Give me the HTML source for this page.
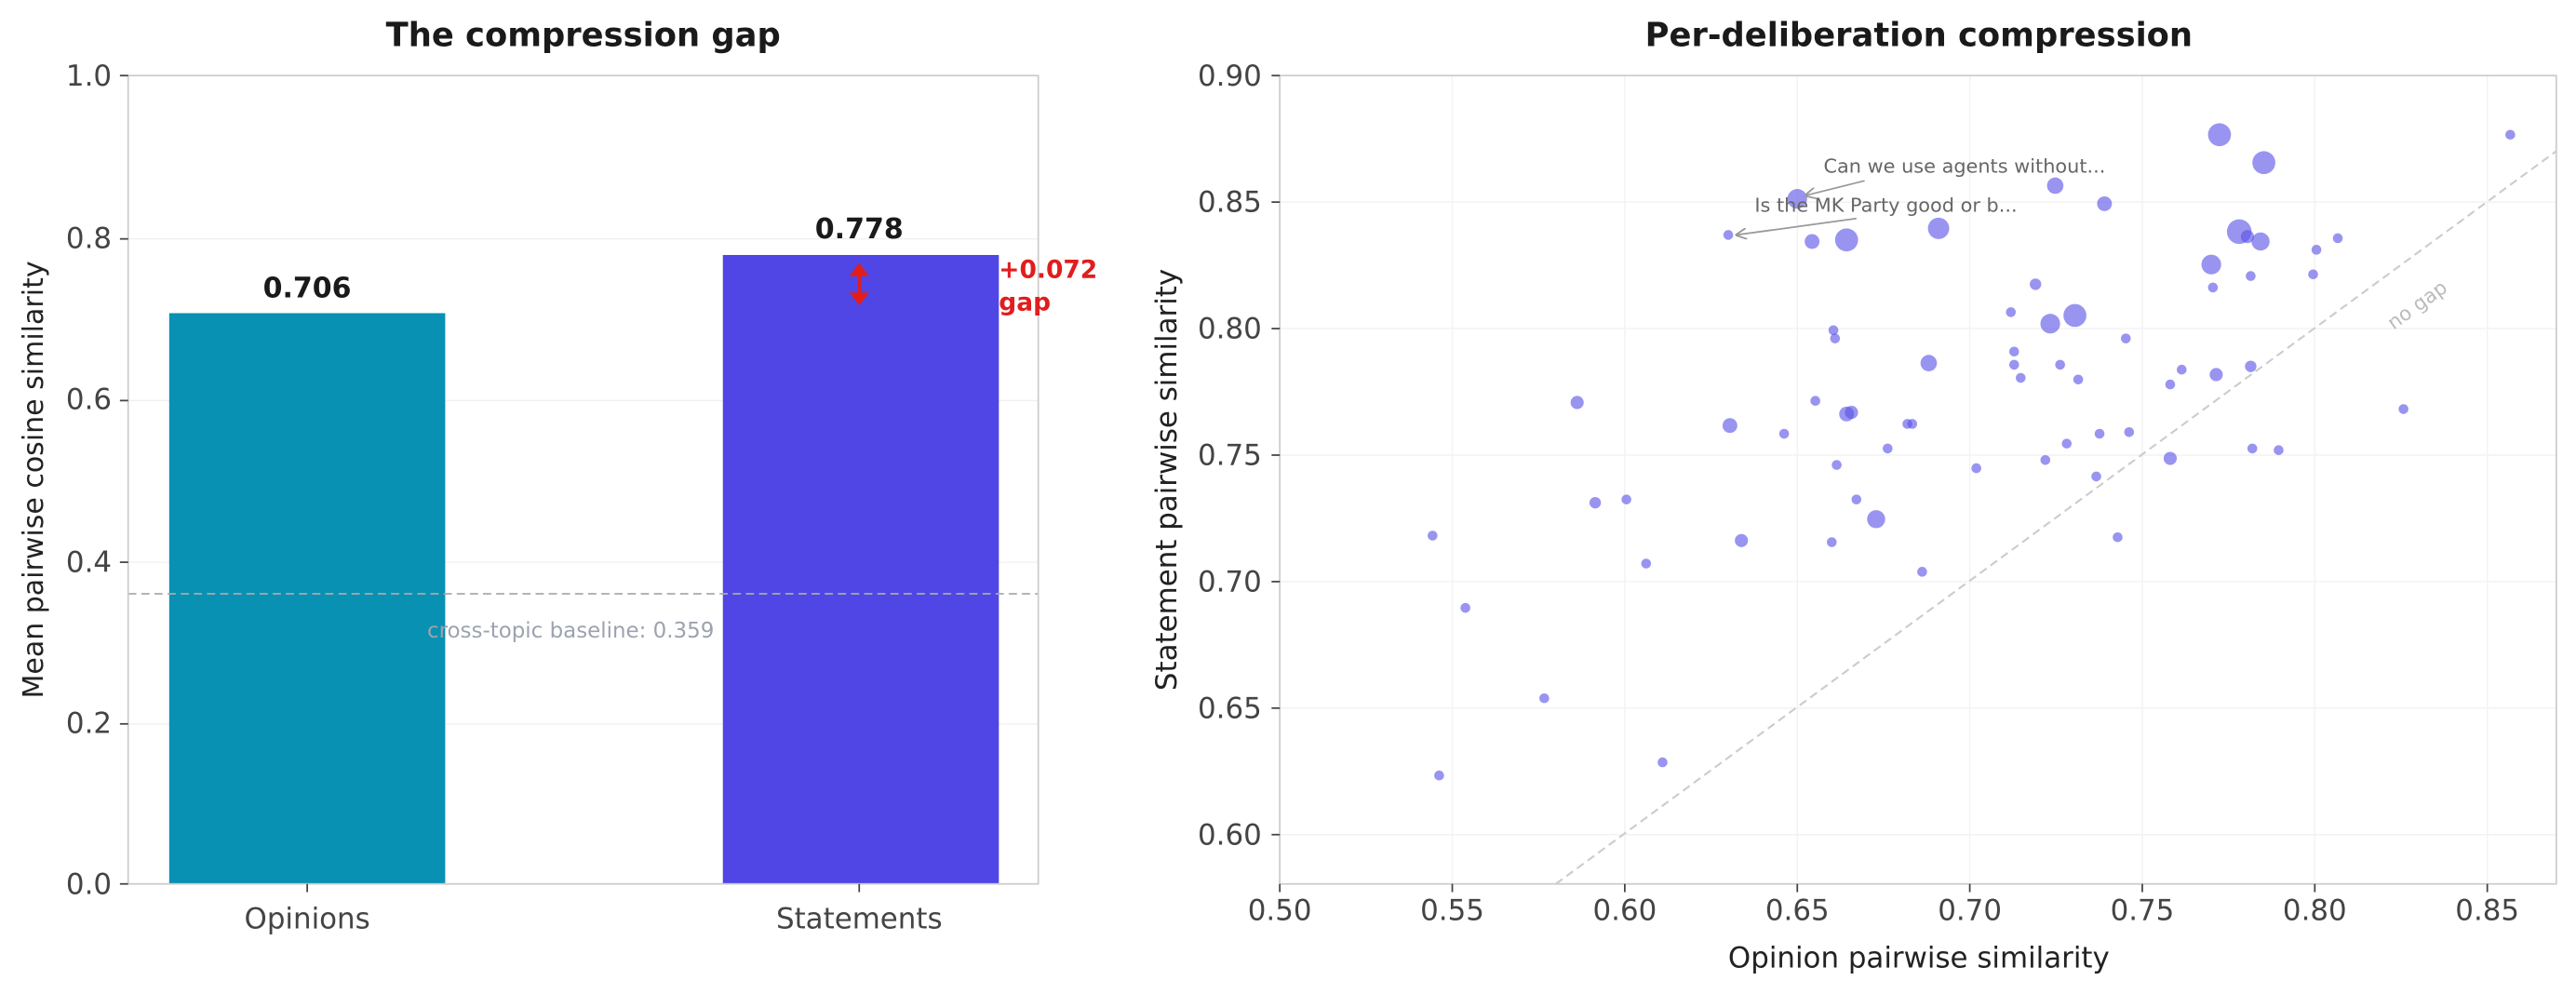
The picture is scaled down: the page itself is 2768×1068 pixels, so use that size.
<!DOCTYPE html>
<html><head><meta charset="utf-8"><style>html,body{margin:0;padding:0;background:#fff}svg{display:block}</style></head>
<body>
<svg width="2768" height="1068" viewBox="0 0 1568 605" preserveAspectRatio="none" xmlns="http://www.w3.org/2000/svg" font-family="'DejaVu Sans','Liberation Sans',sans-serif">
<defs><marker id="ah" viewBox="0 0 10 10" refX="9" refY="5" markerWidth="7" markerHeight="7" orient="auto"><path d="M0,0 L10,5 L0,10" fill="none" stroke="#999" stroke-width="1.5"/></marker></defs>
<rect width="1568" height="605" fill="#fff"/>
<!-- LEFT -->
<text x="355" y="28" text-anchor="middle" font-size="20" font-weight="bold" fill="#1a1a1a">The compression gap</text>
<g stroke="#f0f0f0" stroke-width="0.8">
<line x1="78" x2="632" y1="440.6" y2="440.6"/><line x1="78" x2="632" y1="342.2" y2="342.2"/><line x1="78" x2="632" y1="243.8" y2="243.8"/><line x1="78" x2="632" y1="145.4" y2="145.4"/></g>
<rect x="103" y="190.6" width="168" height="347.4" fill="#0891b2"/>
<rect x="440" y="155.2" width="168" height="382.8" fill="#4f46e5"/>
<line x1="78" x2="632" y1="361.4" y2="361.4" stroke="#aaa" stroke-dasharray="5,3" stroke-width="1"/>
<text x="260" y="388" font-size="13" fill="#9ca3af">cross-topic baseline: 0.359</text>
<rect x="78" y="46" width="554" height="492" fill="none" stroke="#ccc" stroke-width="1"/>
<text x="187" y="181" text-anchor="middle" font-size="17" font-weight="bold" fill="#1a1a1a">0.706</text>
<text x="523" y="145" text-anchor="middle" font-size="17" font-weight="bold" fill="#1a1a1a">0.778</text>
<line x1="523" y1="162" x2="523" y2="184" stroke="#e11d1d" stroke-width="2"/>
<path d="M517,168 L523,160 L529,168 Z M517,178 L523,186 L529,178 Z" fill="#e11d1d"/>
<text x="608" y="169" font-size="15" font-weight="bold" fill="#e11d1d">+0.072</text>
<text x="608" y="189" font-size="15" font-weight="bold" fill="#e11d1d">gap</text>
<g font-size="17.5" fill="#444" text-anchor="end">
<text x="68" y="544">0.0</text><text x="68" y="446">0.2</text><text x="68" y="348">0.4</text><text x="68" y="249">0.6</text><text x="68" y="151">0.8</text><text x="68" y="52">1.0</text></g>
<g stroke="#444"><line x1="73" x2="78" y1="538" y2="538"/><line x1="73" x2="78" y1="440.6" y2="440.6"/><line x1="73" x2="78" y1="342.2" y2="342.2"/><line x1="73" x2="78" y1="243.8" y2="243.8"/><line x1="73" x2="78" y1="145.4" y2="145.4"/><line x1="73" x2="78" y1="46" y2="46"/><line x1="187" x2="187" y1="538" y2="543"/><line x1="523" x2="523" y1="538" y2="543"/></g>
<g font-size="17.5" fill="#444" text-anchor="middle"><text x="187" y="565">Opinions</text><text x="523" y="565">Statements</text></g>
<text transform="translate(26,292) rotate(-90)" text-anchor="middle" font-size="17" fill="#222">Mean pairwise cosine similarity</text>
<!-- RIGHT -->
<text x="1168" y="28" text-anchor="middle" font-size="20" font-weight="bold" fill="#1a1a1a">Per-deliberation compression</text>
<g stroke="#f2f2f2" stroke-width="0.8">
<line x1="884" x2="884" y1="46" y2="538"/><line x1="989" x2="989" y1="46" y2="538"/><line x1="1094" x2="1094" y1="46" y2="538"/><line x1="1199" x2="1199" y1="46" y2="538"/><line x1="1304" x2="1304" y1="46" y2="538"/><line x1="1409" x2="1409" y1="46" y2="538"/><line x1="1514" x2="1514" y1="46" y2="538"/>
<line x1="779" x2="1556" y1="508" y2="508"/><line x1="779" x2="1556" y1="431" y2="431"/><line x1="779" x2="1556" y1="354" y2="354"/><line x1="779" x2="1556" y1="277" y2="277"/><line x1="779" x2="1556" y1="200" y2="200"/><line x1="779" x2="1556" y1="123" y2="123"/></g>
<line x1="947" y1="538" x2="1556" y2="92" stroke="#ccc" stroke-dasharray="5,3" stroke-width="1.2"/>
<text transform="translate(1457,201) rotate(-36)" font-size="12" fill="#bbb">no gap</text>
<g fill="#5b52e6" fill-opacity="0.62">
<circle cx="1528" cy="82" r="3"/><circle cx="1351" cy="82" r="7"/><circle cx="1378" cy="99" r="7"/><circle cx="1094" cy="121" r="6"/><circle cx="1251" cy="113" r="5"/><circle cx="1281" cy="124" r="4.5"/><circle cx="1052" cy="143" r="3"/><circle cx="1103" cy="147" r="4.5"/><circle cx="1124" cy="146" r="7"/><circle cx="1180" cy="139" r="6.5"/><circle cx="1363" cy="141" r="7.5"/><circle cx="1376" cy="147" r="5.5"/><circle cx="1368" cy="144" r="4"/><circle cx="1346" cy="161" r="6"/><circle cx="1410" cy="152" r="3"/><circle cx="1423" cy="145" r="3"/><circle cx="1347" cy="175" r="3"/><circle cx="1370" cy="168" r="3"/><circle cx="1408" cy="167" r="3"/><circle cx="1239" cy="173" r="3.5"/><circle cx="1224" cy="190" r="3"/><circle cx="1263" cy="192" r="7"/><circle cx="1248" cy="197" r="6"/><circle cx="1294" cy="206" r="3"/><circle cx="1116" cy="201" r="3"/><circle cx="1117" cy="206" r="3"/><circle cx="1226" cy="214" r="3"/><circle cx="1226" cy="222" r="3"/><circle cx="1230" cy="230" r="3"/><circle cx="1254" cy="222" r="3"/><circle cx="1265" cy="231" r="3"/><circle cx="1174" cy="221" r="5"/><circle cx="1328" cy="225" r="3"/><circle cx="1321" cy="234" r="3"/><circle cx="1349" cy="228" r="4"/><circle cx="1370" cy="223" r="3.5"/><circle cx="960" cy="245" r="4"/><circle cx="1105" cy="244" r="3"/><circle cx="1127" cy="251" r="4"/><circle cx="1124" cy="252" r="4.5"/><circle cx="1161" cy="258" r="3"/><circle cx="1164" cy="258" r="3"/><circle cx="1053" cy="259" r="4.5"/><circle cx="1086" cy="264" r="3"/><circle cx="1296" cy="263" r="3"/><circle cx="1278" cy="264" r="3"/><circle cx="1258" cy="270" r="3"/><circle cx="1149" cy="273" r="3"/><circle cx="1118" cy="283" r="3"/><circle cx="1203" cy="285" r="3"/><circle cx="1245" cy="280" r="3"/><circle cx="1321" cy="279" r="4"/><circle cx="1463" cy="249" r="3"/><circle cx="1371" cy="273" r="3"/><circle cx="1387" cy="274" r="3"/><circle cx="1276" cy="290" r="3"/><circle cx="971" cy="306" r="3.5"/><circle cx="990" cy="304" r="3"/><circle cx="1130" cy="304" r="3"/><circle cx="1142" cy="316" r="5.5"/><circle cx="1060" cy="329" r="4"/><circle cx="1115" cy="330" r="3"/><circle cx="872" cy="326" r="3"/><circle cx="1289" cy="327" r="3"/><circle cx="1002" cy="343" r="3"/><circle cx="1170" cy="348" r="3"/><circle cx="892" cy="370" r="3"/><circle cx="940" cy="425" r="3"/><circle cx="876" cy="472" r="3"/><circle cx="1012" cy="464" r="3"/>
</g>
<line x1="1135" y1="110" x2="1099" y2="119" stroke="#999" stroke-width="1" marker-end="url(#ah)"/>
<line x1="1130" y1="133" x2="1057" y2="143" stroke="#999" stroke-width="1" marker-end="url(#ah)"/>
<text x="1110" y="105" font-size="11.8" fill="#666">Can we use agents without...</text>
<text x="1068" y="129" font-size="11.8" fill="#666">Is the MK Party good or b...</text>
<rect x="779" y="46" width="777" height="492" fill="none" stroke="#ccc" stroke-width="1"/>
<g stroke="#444"><line x1="779" x2="779" y1="538" y2="543"/><line x1="884" x2="884" y1="538" y2="543"/><line x1="989" x2="989" y1="538" y2="543"/><line x1="1094" x2="1094" y1="538" y2="543"/><line x1="1199" x2="1199" y1="538" y2="543"/><line x1="1304" x2="1304" y1="538" y2="543"/><line x1="1409" x2="1409" y1="538" y2="543"/><line x1="1514" x2="1514" y1="538" y2="543"/>
<line x1="774" x2="779" y1="508" y2="508"/><line x1="774" x2="779" y1="431" y2="431"/><line x1="774" x2="779" y1="354" y2="354"/><line x1="774" x2="779" y1="277" y2="277"/><line x1="774" x2="779" y1="200" y2="200"/><line x1="774" x2="779" y1="123" y2="123"/><line x1="774" x2="779" y1="46" y2="46"/></g>
<g font-size="17.5" fill="#444" text-anchor="middle"><text x="779" y="560">0.50</text><text x="884" y="560">0.55</text><text x="989" y="560">0.60</text><text x="1094" y="560">0.65</text><text x="1199" y="560">0.70</text><text x="1304" y="560">0.75</text><text x="1409" y="560">0.80</text><text x="1514" y="560">0.85</text></g>
<g font-size="17.5" fill="#444" text-anchor="end"><text x="768" y="514">0.60</text><text x="768" y="437">0.65</text><text x="768" y="360">0.70</text><text x="768" y="283">0.75</text><text x="768" y="206">0.80</text><text x="768" y="129">0.85</text><text x="768" y="52">0.90</text></g>
<text x="1168" y="589" text-anchor="middle" font-size="17.5" fill="#222">Opinion pairwise similarity</text>
<text transform="translate(716,292) rotate(-90)" text-anchor="middle" font-size="17.5" fill="#222">Statement pairwise similarity</text>
</svg>
</body></html>
